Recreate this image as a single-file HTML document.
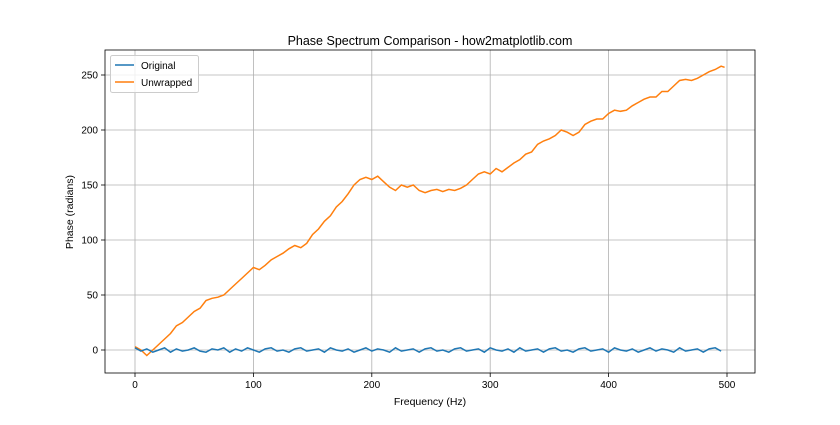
<!DOCTYPE html>
<html><head><meta charset="utf-8"><style>
body{margin:0;background:#fff;font-family:"Liberation Sans",sans-serif;}
svg text{font-family:"Liberation Sans",sans-serif;fill:#000;}
</style></head><body>
<svg id="chart" width="840" height="420">
<rect x="0" y="0" width="840" height="420" fill="#fff"/>
<text x="430" y="45" font-size="12.5" text-anchor="middle">Phase Spectrum Comparison - how2matplotlib.com</text>
<g id="grid"></g><g id="series"></g><g id="axes"></g>
<text x="430" y="405" font-size="10.5" text-anchor="middle">Frequency (Hz)</text>
<text x="73" y="212" font-size="10.5" text-anchor="middle" transform="rotate(-90 73 212)">Phase (radians)</text>
<g>
<rect x="110.5" y="55.5" width="88" height="37" rx="2" fill="#fff" fill-opacity="0.8" stroke="#ccc"/>
<line x1="115" y1="65" x2="134" y2="65" stroke="#1f77b4" stroke-width="1.5"/>
<text x="141" y="69" font-size="10">Original</text>
<line x1="115" y1="82" x2="134" y2="82" stroke="#ff7f0e" stroke-width="1.5"/>
<text x="141" y="86" font-size="10">Unwrapped</text>
</g>
</svg>
<script>
const xTicks=[0,100,200,300,400,500];
const yTicks=[0,50,100,150,200,250];
const freqs=[0,5,10,15,20,25,30,35,40,45,50,55,60,65,70,75,80,85,90,95,100,105,110,115,120,125,130,135,140,145,150,155,160,165,170,175,180,185,190,195,200,205,210,215,220,225,230,235,240,245,250,255,260,265,270,275,280,285,290,295,300,305,310,315,320,325,330,335,340,345,350,355,360,365,370,375,380,385,390,395,400,405,410,415,420,425,430,435,440,445,450,455,460,465,470,475,480,485,490,495,498];
const unwrapped=[3,0,-5,0,5,10,15,22,25,30,35,38,45,47,48,50,55,60,65,70,75,73,77,82,85,88,92,95,93,97,105,110,117,122,130,135,142,150,155,157,155,158,153,148,145,150,148,150,145,143,145,146,144,146,145,147,150,155,160,162,160,165,162,166,170,173,178,180,187,190,192,195,200,198,195,198,205,208,210,210,215,218,217,218,222,225,228,230,230,235,235,240,245,246,245,247,250,253,255,258,257];
const original=[2,-1,1,-2,0,2,-2,1,-1,0,2,-1,-2,1,0,2,-2,1,-1,2,0,-2,1,2,-1,0,-2,1,2,-1,0,1,-2,2,0,-1,1,-2,0,2,-1,1,0,-2,2,-1,0,1,-2,1,2,-1,0,-2,1,2,-1,0,1,-2,2,0,-1,1,-2,2,-1,0,1,-2,1,2,-1,0,-2,1,2,-1,0,1,-2,2,0,-1,1,-2,0,2,-1,1,0,-2,2,-1,0,1,-2,1,2,-1];
const L=105,R=755,T=50,B=373;
const sx=v=>135+v*1.184;
const sy=v=>350-v*1.1;
const NS='http://www.w3.org/2000/svg';
function mk(tag,attrs,parent){const e=document.createElementNS(NS,tag);for(const k in attrs)e.setAttribute(k,attrs[k]);parent.appendChild(e);return e;}
const grid=document.getElementById('grid'),axes=document.getElementById('axes'),series=document.getElementById('series');
xTicks.forEach(t=>{const x=sx(t);
 const g=mk('line',{x1:x,y1:T,x2:x,y2:B,stroke:'#b0b0b0','stroke-width':0.8},grid);
 
 
 mk('line',{x1:x,y1:B,x2:x,y2:B+4,stroke:'#000','stroke-width':0.8},axes);
 const tx=mk('text',{x:x,y:B+15,'font-size':10,'text-anchor':'middle'},axes);tx.textContent=t;
 
 });
yTicks.forEach(t=>{const y=sy(t);
 const g=mk('line',{x1:L,y1:y,x2:R,y2:y,stroke:'#b0b0b0','stroke-width':0.8},grid);
 
 
 mk('line',{x1:L-4,y1:y,x2:L,y2:y,stroke:'#000','stroke-width':0.8},axes);
 const tx=mk('text',{x:L-7,y:y+3.5,'font-size':10,'text-anchor':'end'},axes);tx.textContent=t;
 
 });
const frame=mk('rect',{x:L,y:T,width:R-L,height:B-T,fill:'none',stroke:'#000','stroke-width':0.8},axes);


function line(vals,color,name){const d=vals.map((v,i)=>(i?'L':'M')+sx(freqs[i]).toFixed(1)+','+sy(v).toFixed(1)).join('');
 const p=mk('path',{d:d,fill:'none',stroke:color,'stroke-width':1.5},series);
 
 }
line(unwrapped,'#ff7f0e','unwrapped-line');
line(original,'#1f77b4','original-line');
</script>
</body></html>
